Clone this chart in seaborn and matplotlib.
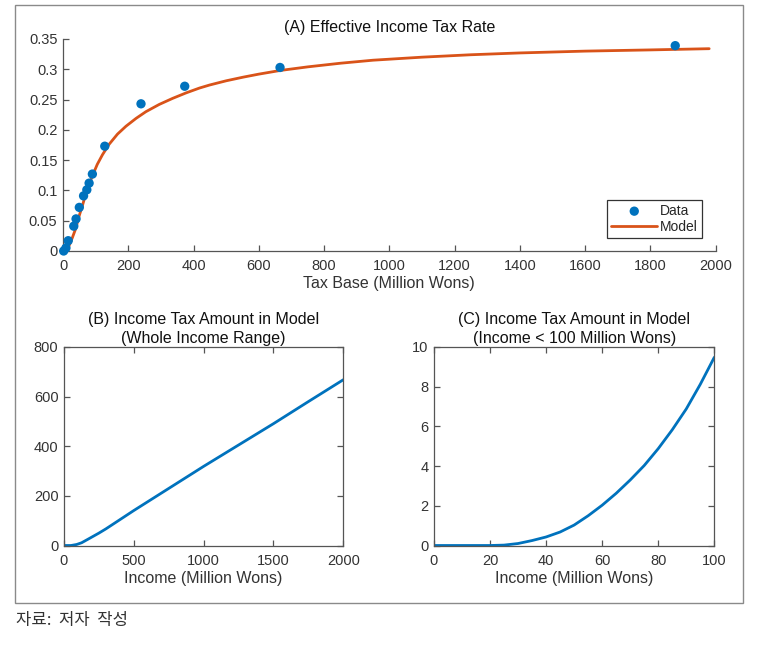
import matplotlib
matplotlib.use("Agg")
import matplotlib.pyplot as plt
import seaborn as sns
from matplotlib.ticker import FormatStrFormatter
from matplotlib.patches import Rectangle

# ---------------- data ----------------
data_base = [2, 9, 16, 33, 40, 50, 63, 73, 80, 90, 128, 239, 373, 665, 1876]
data_rate = [0.000, 0.005, 0.017, 0.041, 0.053, 0.072, 0.091, 0.101, 0.112, 0.127,
             0.173, 0.243, 0.272, 0.303, 0.339]

model_base = [0, 8, 18, 28, 39, 49, 60, 70, 80, 90, 105, 121, 141, 167, 193, 224, 254,
              295, 336, 377, 418, 449, 500, 552, 600, 665, 750, 850, 950, 1100, 1250,
              1400, 1600, 1800, 1980]
model_rate = [0.000, 0.003, 0.008, 0.021, 0.037, 0.057, 0.076, 0.094, 0.110, 0.124,
              0.143, 0.159, 0.176, 0.193, 0.206, 0.219, 0.230, 0.242, 0.252, 0.261,
              0.269, 0.274, 0.281, 0.287, 0.292, 0.298, 0.304, 0.310, 0.315, 0.320,
              0.324, 0.327, 0.330, 0.332, 0.334]

income_whole = [0, 50, 90, 126, 174, 250, 300, 400, 500, 750, 1000, 1250, 1500, 1750, 2000]
tax_whole = [0, 0, 4, 11, 26, 50, 67, 104, 141, 230, 319, 405, 491, 580, 668]

income_low = [0, 10, 20, 25, 30, 35, 40, 45, 50, 55, 60, 65, 70, 75, 80, 85, 90, 95, 100]
tax_low = [0, 0, 0, 0.02, 0.10, 0.25, 0.43, 0.68, 1.03, 1.50, 2.03, 2.63, 3.30, 4.03,
           4.88, 5.83, 6.88, 8.12, 9.48]

a_xticks = list(range(0, 2001, 200))
a_yticks = [0, 0.05, 0.1, 0.15, 0.2, 0.25, 0.3, 0.35]
b_xticks = [0, 500, 1000, 1500, 2000]
b_yticks = [0, 200, 400, 600, 800]
c_xticks = [0, 20, 40, 60, 80, 100]
c_yticks = [0, 2, 4, 6, 8, 10]

title_a = "(A) Effective Income Tax Rate"
title_b = "(B) Income Tax Amount in Model\n(Whole Income Range)"
title_c = "(C) Income Tax Amount in Model\n(Income < 100 Million Wons)"
xlabel_a = "Tax Base (Million Wons)"
xlabel_bc = "Income (Million Wons)"
caption = "자료:  저자  작성"

# ---------------- style ----------------
sns.set_style("white")
plt.rcParams['font.family'] = ['Liberation Sans', 'DejaVu Sans']
plt.rcParams['axes.unicode_minus'] = False

BLUE = "#0072BD"
ORANGE = "#D95319"
SPINE = "#555555"
TICKC = "#333333"
FS_TICK = 10.5
FS_LAB = 11.5

fig = plt.figure(figsize=(7.57, 6.45), dpi=100)

# outer frame
fig.patches.append(Rectangle((15 / 757, 1 - 603 / 645), (743 - 15) / 757, (603 - 5) / 645,
                             transform=fig.transFigure, fill=False,
                             edgecolor="#8a8a8a", lw=1.0))

axA = fig.add_axes([63 / 757, 1 - 251 / 645, (715.7 - 63) / 757, (251 - 39) / 645])
axB = fig.add_axes([64 / 757, 1 - 545.5 / 645, (343.3 - 64) / 757, (545.5 - 347) / 645])
axC = fig.add_axes([434 / 757, 1 - 545.5 / 645, (714.3 - 434) / 757, (545.5 - 347) / 645])


def style_axes(ax, box):
    for side in ["left", "bottom", "top", "right"]:
        ax.spines[side].set_color(SPINE)
        ax.spines[side].set_linewidth(0.9)
    if not box:
        ax.spines["top"].set_visible(False)
        ax.spines["right"].set_visible(False)
    ax.tick_params(direction="in", length=4, width=0.9, color=SPINE,
                   labelcolor=TICKC, labelsize=FS_TICK, top=box, right=box,
                   left=True, bottom=True)
    ax.tick_params(axis="x", pad=6)
    ax.tick_params(axis="y", pad=4)


# ---- Panel A ----
sns.lineplot(x=model_base, y=model_rate, ax=axA, color=ORANGE, lw=2.0,
             label="Model", estimator=None, zorder=2)
sns.scatterplot(x=data_base, y=data_rate, ax=axA, color=BLUE, s=45,
                edgecolor="none", label="Data", zorder=3, clip_on=False)
axA.set_xlim(0, 2000)
axA.set_ylim(0, 0.35)
axA.set_xticks(a_xticks)
axA.set_yticks(a_yticks)
axA.yaxis.set_major_formatter(FormatStrFormatter('%g'))
style_axes(axA, box=False)
axA.set_title(title_a, fontsize=FS_LAB, color="#111111", pad=5)
axA.set_xlabel(xlabel_a, fontsize=FS_LAB, color=TICKC, labelpad=2)
axA.set_ylabel("")
h, l = axA.get_legend_handles_labels()
order = [l.index("Data"), l.index("Model")]
leg = axA.legend([h[i] for i in order], [l[i] for i in order],
                 loc="lower right", bbox_to_anchor=(0.979, 0.061),
                 fontsize=10, frameon=True, fancybox=False,
                 edgecolor="#333333", framealpha=1, handlelength=3.3,
                 borderpad=0.3, labelspacing=0.15, handletextpad=0.2,
                 borderaxespad=0)
leg.get_frame().set_linewidth(0.9)

# ---- Panel B ----
sns.lineplot(x=income_whole, y=tax_whole, ax=axB, color=BLUE, lw=2.0, estimator=None)
axB.set_xlim(0, 2000)
axB.set_ylim(0, 800)
axB.set_xticks(b_xticks)
axB.set_yticks(b_yticks)
style_axes(axB, box=True)
axB.set_title(title_b, fontsize=FS_LAB, color="#111111", pad=3, linespacing=1.3)
axB.set_xlabel(xlabel_bc, fontsize=FS_LAB, color=TICKC, labelpad=2)
axB.set_ylabel("")

# ---- Panel C ----
sns.lineplot(x=income_low, y=tax_low, ax=axC, color=BLUE, lw=2.0, estimator=None)
axC.set_xlim(0, 100)
axC.set_ylim(0, 10)
axC.set_xticks(c_xticks)
axC.set_yticks(c_yticks)
style_axes(axC, box=True)
axC.set_title(title_c, fontsize=FS_LAB, color="#111111", pad=3, linespacing=1.3)
axC.set_xlabel(xlabel_bc, fontsize=FS_LAB, color=TICKC, labelpad=2)
axC.set_ylabel("")

fig.text(16 / 757, 1 - 621 / 645, caption, fontsize=12, color="#333333",
         va="center", ha="left", family=['Noto Sans CJK KR', 'DejaVu Sans'])

fig.savefig("out.png", dpi=100)
